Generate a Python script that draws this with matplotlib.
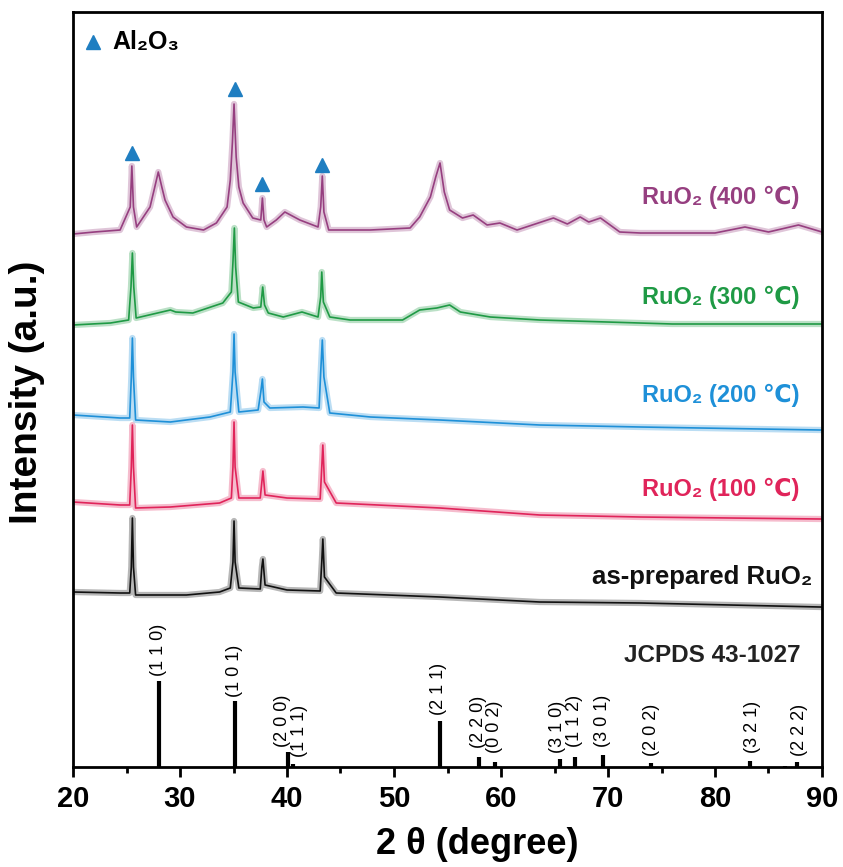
import matplotlib
matplotlib.use("Agg")
import matplotlib.pyplot as plt

plt.rcParams['font.family'] = ['Liberation Sans', 'DejaVu Sans']

# ---- data (2theta in degrees, intensity in arbitrary units, already offset) ----
# as-prepared RuO2
x_asp = [20.0, 24.4, 25.3, 25.45, 25.55, 25.65, 25.85, 30.6, 33.7, 34.7, 34.95, 35.05, 35.15,
         35.5, 37.5, 37.65, 37.75, 37.95, 40.0, 43.1, 43.25, 43.35, 43.5, 44.6, 54.3, 63.6, 73.0, 89.8, 90.0]
y_asp = [175, 174, 174, 200, 249, 200, 172, 172, 175, 179, 205, 246, 205,
         179, 178, 200, 208, 182, 177, 176, 205, 228, 190, 174, 170, 165, 164, 160, 160]

# 100 C
x_100 = [20.0, 24.4, 25.3, 25.45, 25.55, 25.65, 25.85, 29.1, 33.7, 34.8, 34.95, 35.05, 35.15,
         35.5, 37.5, 37.65, 37.75, 37.95, 40.0, 43.1, 43.25, 43.35, 43.5, 44.6, 54.3, 63.6, 73.0, 89.8, 90.0]
y_100 = [265, 262, 262, 300, 342, 300, 259, 260, 264, 269, 300, 345, 300,
         269, 269, 285, 296, 272, 269, 268, 300, 322, 285, 264, 259, 252, 250, 248, 248]

# 200 C
x_200 = [20.0, 24.4, 25.3, 25.45, 25.55, 25.65, 25.85, 29.1, 32.8, 34.7, 34.95, 35.05, 35.15,
         35.5, 37.3, 37.55, 37.7, 37.85, 38.4, 41.5, 43.0, 43.15, 43.3, 43.45, 44.0, 47.8, 54.3, 63.6, 73.0, 89.8, 90.0]
y_200 = [352, 349, 349, 390, 429, 390, 347, 345, 350, 355, 395, 433, 395,
         355, 357, 375, 388, 365, 359, 360, 359, 395, 427, 390, 354, 350, 347, 342, 340, 337, 337]

# 300 C
x_300 = [20.0, 23.5, 25.2, 25.42, 25.55, 25.68, 25.9, 29.1, 29.6, 31.2, 34.0, 34.8, 34.95, 35.08, 35.2,
         35.45, 36.85, 37.55, 37.73, 37.9, 38.25, 39.65, 41.4, 42.9, 43.15, 43.25, 43.4, 44.0, 45.9,
         50.8, 52.4, 54.0, 55.2, 56.2, 59.0, 63.6, 69.9, 76.0, 90.0]
y_300 = [442, 444, 447, 480, 514, 480, 449, 457, 455, 454, 464, 475, 505, 539, 500,
         465, 459, 460, 480, 462, 454, 450, 455, 450, 470, 495, 465, 450, 447,
         447, 457, 459, 462, 455, 450, 447, 445, 443, 443]

# 400 C
x_400 = [20.0, 22.0, 24.4, 25.35, 25.5, 25.65, 25.95, 27.2, 27.6, 27.97, 28.3, 28.6, 29.35, 30.6, 32.2, 33.4,
         34.4, 34.7, 34.9, 35.05, 35.25, 35.5, 35.9, 36.8, 37.55, 37.7, 37.85, 38.1, 39.0, 39.8, 41.2,
         42.9, 43.15, 43.3, 43.45, 43.9, 47.8, 51.5, 52.4, 53.4, 53.9, 54.3, 54.7, 55.2, 56.4,
         57.4, 58.7, 59.9, 61.5, 64.9, 66.2, 67.4, 68.2, 69.3, 71.1, 73.0, 80.0, 82.8, 85.0, 87.8, 90.0]
y_400 = [533, 535, 537, 560, 601, 560, 540, 560, 578, 595, 580, 567, 550, 540, 537, 544,
         560, 587, 625, 663, 610, 580, 564, 549, 547, 569, 547, 540, 547, 555, 547,
         540, 560, 591, 555, 537, 537, 539, 550, 570, 590, 604, 575, 557, 549,
         552, 542, 544, 537, 549, 543, 550, 545, 549, 535, 534, 534, 540, 535, 542, 535]

# JCPDS 43-1027 reference sticks
ref_pos = [28.0, 35.1, 40.05, 40.6, 54.3, 57.9, 59.4, 65.5, 66.9, 69.5, 74.0, 83.3, 86.5, 87.7]
ref_int = [86, 66, 15, 3, 46, 10, 5, 8, 10, 12, 4, 6, 1, 5]
hkl_text = ["(1 1 0)", "(1 0 1)", "(2 0 0)", "(1 1 1)", "(2 1 1)", "(2 2 0)", "(0 0 2)",
            "(3 1 0)", "(1 1 2)", "(3 0 1)", "(2 0 2)", "(3 2 1)", "(2 2 2)"]
hkl_x = [28.0, 35.1, 39.6, 41.2, 54.2, 57.9, 59.4, 65.3, 66.9, 69.5, 74.1, 83.5, 87.9]
hkl_y = [91, 70, 20, 10, 52, 19, 14, 14, 20, 20, 11, 14, 11]

# Al2O3 marks
al_x = [25.5, 35.1, 37.7, 43.3]
al_y = [614, 678, 583, 602]

labels = ["RuO₂ (400 ℃)", "RuO₂ (300 ℃)", "RuO₂ (200 ℃)", "RuO₂ (100 ℃)", "as-prepared RuO₂"]
label_y = [570, 470, 372, 278, 190]
colors = ["#963F80", "#1F9A45", "#1E90D8", "#E0245A", "#111111"]

fig = plt.figure(figsize=(8.43, 8.67), dpi=100)
ax = fig.add_axes([73 / 843, 100 / 867, 749 / 843, 755 / 867])

series = [(x_400, y_400), (x_300, y_300), (x_200, y_200), (x_100, y_100), (x_asp, y_asp)]
for (xs, ys), c in zip(series, colors):
    ax.plot(xs, ys, color=c, lw=4.5, alpha=0.3)
    ax.plot(xs, ys, color=c, lw=1.2)

ax.vlines(ref_pos, 0, ref_int, color='black', lw=3)
for t, xx, yy in zip(hkl_text, hkl_x, hkl_y):
    ax.text(xx, yy, t, rotation=90, ha='center', va='bottom', fontsize=13)

ax.plot(al_x, al_y, '^', color='#1F7EC1', ms=10, ls='none')
ax.plot([21.9], [725], '^', color='#1F7EC1', ms=10)
ax.text(23.7, 718, "Al₂O₃", fontsize=18, fontweight='bold', va='baseline', ha='left')

for t, yy, c in zip(labels, label_y, colors):
    if t.startswith("as"):
        ax.text(89.1, yy, t, color=c, fontsize=18.5, fontweight='bold', ha='right', va='center')
    else:
        ax.text(87.9, yy, t, color=c, fontsize=17, fontweight='bold', ha='right', va='center')
ax.text(88.0, 112, "JCPDS 43-1027", color='#222222', fontsize=17.5, fontweight='bold',
        ha='right', va='center')

ax.set_xlim(20, 90)
ax.set_ylim(0, 755)
ax.set_xticks([20, 30, 40, 50, 60, 70, 80, 90])
ax.set_xticks([25, 35, 45, 55, 65, 75, 85], minor=True)
ax.set_yticks([])
ax.tick_params(axis='x', which='major', length=7, width=2, labelsize=21, pad=6)
ax.tick_params(axis='x', which='minor', length=4, width=2)
for lab in ax.get_xticklabels():
    lab.set_fontweight('bold')
for s in ax.spines.values():
    s.set_linewidth(2)

ax.set_xlabel("2 θ (degree)", fontsize=26, fontweight='bold')
ax.xaxis.set_label_coords((477 - 73) / 749, -(845 - 767) / 755, transform=ax.transAxes)
ax.set_ylabel("Intensity (a.u.)", fontsize=28, fontweight='bold')
ax.yaxis.set_label_coords(-(73 - 27) / 749, (767 - 392) / 755, transform=ax.transAxes)
ax.xaxis.label.set_va('center')
ax.yaxis.label.set_va('center')

fig.savefig("out.png", dpi=100)
